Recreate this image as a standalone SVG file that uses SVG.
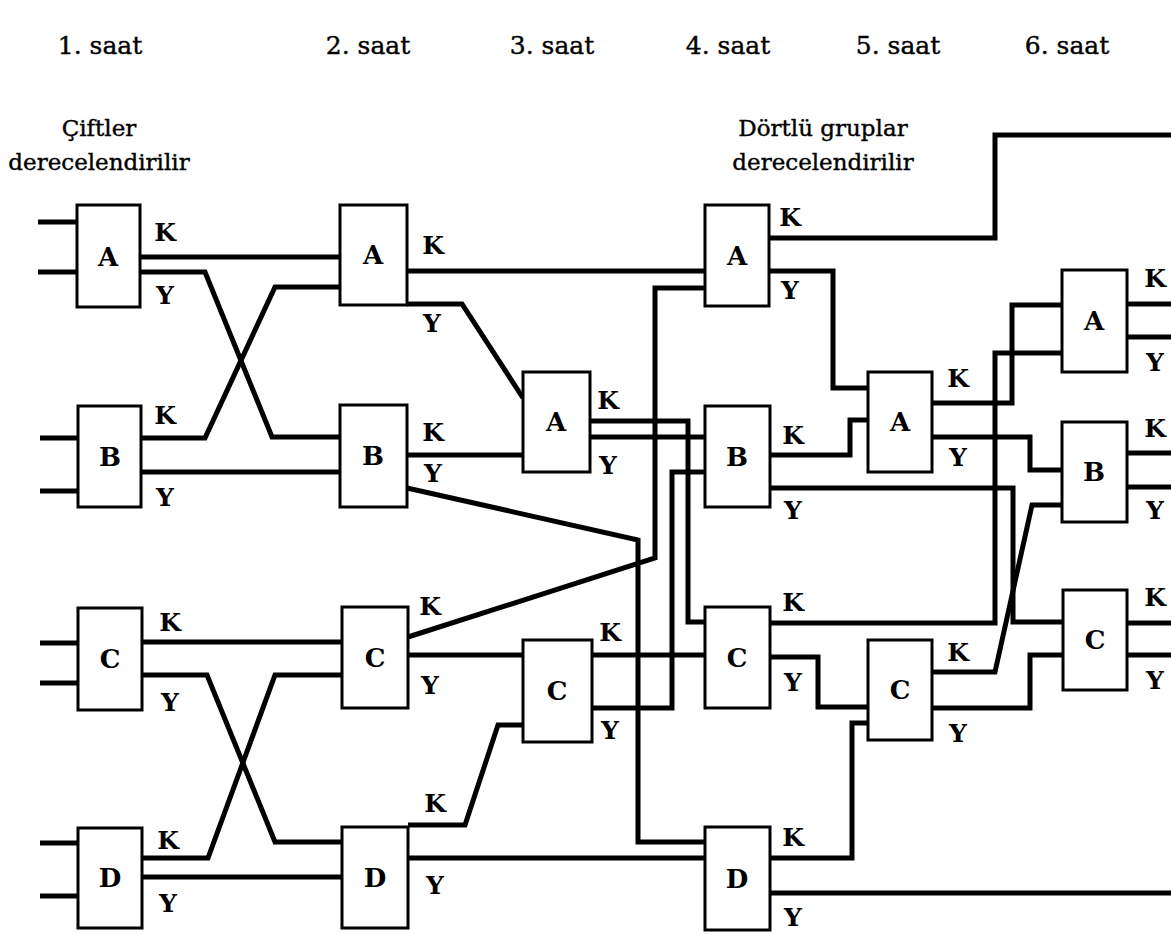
<svg xmlns="http://www.w3.org/2000/svg" width="1171" height="934" viewBox="0 0 1171 934">
<style>
.w{fill:none;stroke:#000;stroke-width:5;stroke-linejoin:miter;stroke-linecap:butt}
.b{fill:#fff;stroke:#000;stroke-width:3}
.n{font-family:"DejaVu Serif","Liberation Serif",serif;font-weight:bold;font-size:26px;text-anchor:middle}
.p{font-family:"DejaVu Serif","Liberation Serif",serif;font-weight:bold;font-size:25px;text-anchor:middle}
.h{font-family:"DejaVu Serif","Liberation Serif",serif;font-size:25px;text-anchor:middle;stroke:#000;stroke-width:0.4}
.s{font-size:23px}
</style>
<rect width="1171" height="934" fill="#fff"/>
<g id="headings">
<text class="h" x="100" y="54">1. saat</text>
<text class="h" x="368" y="54">2. saat</text>
<text class="h" x="552" y="54">3. saat</text>
<text class="h" x="728" y="54">4. saat</text>
<text class="h" x="898" y="54">5. saat</text>
<text class="h" x="1067" y="54">6. saat</text>
<text class="h s" x="99" y="136">Çiftler</text>
<text class="h s" x="99" y="170">derecelendirilir</text>
<text class="h s" x="823" y="136">Dörtlü gruplar</text>
<text class="h s" x="823" y="170">derecelendirilir</text>
</g>
<g id="connectors" class="w">
<path d="M38,222H77M38,272H77M40,438H78M40,491H78M40,643H78M40,683H78M40,843H78M40,896H78"/>
<path d="M140,257H340"/>
<path d="M140,272H205L272,437H340"/>
<path d="M141,438H205L275,287H340"/>
<path d="M141,472H340"/>
<path d="M142,642H342"/>
<path d="M142,675H207L275,842H342"/>
<path d="M142,858H208L275,675H342"/>
<path d="M142,877H342"/>
<path d="M407,271H705"/>
<path d="M407,304H462L523,398"/>
<path d="M407,455H523"/>
<path d="M407,488L638,540V842H705"/>
<path d="M408,637L655,558V288H705"/>
<path d="M408,655H523"/>
<path d="M408,825H465L498,725H523"/>
<path d="M408,858H705"/>
<path d="M590,421H688V622H705"/>
<path d="M590,437H705"/>
<path d="M592,655H705"/>
<path d="M592,708H672V472H705"/>
<path d="M769,238H995V135H1171"/>
<path d="M769,271H833V388H868"/>
<path d="M770,455H850V420H868"/>
<path d="M770,488H1013V622H1063"/>
<path d="M770,623H995V353H1062"/>
<path d="M770,657H818V707H868"/>
<path d="M770,858H852V723H868"/>
<path d="M770,893H1171"/>
<path d="M932,403H1012V305H1062"/>
<path d="M932,437H1030V470H1062"/>
<path d="M932,672H995L1032,505H1062"/>
<path d="M932,708H1030V655H1063"/>
<path d="M1127,304H1171M1127,337H1171M1127,453H1171M1127,487H1171M1127,623H1171M1127,655H1171"/>
</g>
<g id="A1"><rect class="b" x="77" y="205" width="63" height="102"/><text class="n" x="108" y="266">A</text><text class="p" x="165" y="241">K</text><text class="p" x="165" y="304">Y</text></g>
<g id="B1"><rect class="b" x="78" y="406" width="63" height="101"/><text class="n" x="110" y="466">B</text><text class="p" x="165" y="424">K</text><text class="p" x="165" y="506">Y</text></g>
<g id="C1"><rect class="b" x="78" y="608" width="64" height="102"/><text class="n" x="110" y="668">C</text><text class="p" x="170" y="631">K</text><text class="p" x="170" y="711">Y</text></g>
<g id="D1"><rect class="b" x="78" y="828" width="64" height="100"/><text class="n" x="110" y="887">D</text><text class="p" x="168" y="849">K</text><text class="p" x="168" y="912">Y</text></g>
<g id="A2"><rect class="b" x="340" y="205" width="67" height="100"/><text class="n" x="373" y="264">A</text><text class="p" x="433" y="254">K</text><text class="p" x="432" y="332">Y</text></g>
<g id="B2"><rect class="b" x="340" y="405" width="67" height="102"/><text class="n" x="373" y="465">B</text><text class="p" x="433" y="441">K</text><text class="p" x="433" y="482">Y</text></g>
<g id="C2"><rect class="b" x="342" y="607" width="66" height="101"/><text class="n" x="375" y="667">C</text><text class="p" x="430" y="615">K</text><text class="p" x="430" y="694">Y</text></g>
<g id="D2"><rect class="b" x="342" y="827" width="66" height="101"/><text class="n" x="375" y="887">D</text><text class="p" x="435" y="812">K</text><text class="p" x="435" y="894">Y</text></g>
<g id="A3"><rect class="b" x="523" y="372" width="67" height="100"/><text class="n" x="556" y="431">A</text><text class="p" x="608" y="409">K</text><text class="p" x="608" y="474">Y</text></g>
<g id="C3"><rect class="b" x="523" y="640" width="69" height="102"/><text class="n" x="557" y="700">C</text><text class="p" x="610" y="641">K</text><text class="p" x="610" y="739">Y</text></g>
<g id="A4"><rect class="b" x="705" y="205" width="64" height="101"/><text class="n" x="737" y="265">A</text><text class="p" x="790" y="226">K</text><text class="p" x="790" y="299">Y</text></g>
<g id="B4"><rect class="b" x="705" y="406" width="65" height="101"/><text class="n" x="737" y="466">B</text><text class="p" x="793" y="444">K</text><text class="p" x="793" y="519">Y</text></g>
<g id="C4"><rect class="b" x="705" y="607" width="65" height="101"/><text class="n" x="737" y="667">C</text><text class="p" x="793" y="611">K</text><text class="p" x="793" y="691">Y</text></g>
<g id="D4"><rect class="b" x="705" y="827" width="65" height="103"/><text class="n" x="737" y="888">D</text><text class="p" x="793" y="846">K</text><text class="p" x="793" y="926">Y</text></g>
<g id="A5"><rect class="b" x="868" y="372" width="64" height="100"/><text class="n" x="900" y="431">A</text><text class="p" x="958" y="387">K</text><text class="p" x="958" y="466">Y</text></g>
<g id="C5"><rect class="b" x="868" y="640" width="64" height="100"/><text class="n" x="900" y="699">C</text><text class="p" x="958" y="661">K</text><text class="p" x="958" y="742">Y</text></g>
<g id="A6"><rect class="b" x="1062" y="270" width="65" height="102"/><text class="n" x="1094" y="330">A</text><text class="p" x="1155" y="287">K</text><text class="p" x="1155" y="371">Y</text></g>
<g id="B6"><rect class="b" x="1062" y="422" width="65" height="100"/><text class="n" x="1094" y="481">B</text><text class="p" x="1155" y="437">K</text><text class="p" x="1155" y="519">Y</text></g>
<g id="C6"><rect class="b" x="1063" y="590" width="64" height="100"/><text class="n" x="1095" y="649">C</text><text class="p" x="1155" y="606">K</text><text class="p" x="1155" y="689">Y</text></g>
</svg>
